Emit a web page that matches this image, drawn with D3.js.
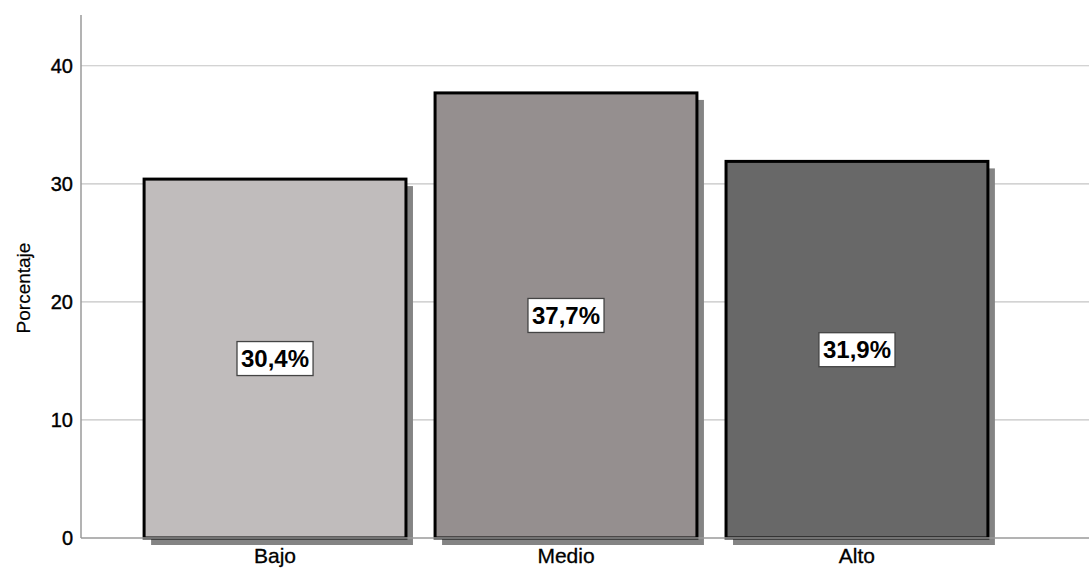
<!DOCTYPE html>
<html>
<head>
<meta charset="utf-8">
<script src="https://cdn.jsdelivr.net/npm/d3@7"></script>
<style>
  body { margin: 0; background: #fff; }
  text { font-family: "Liberation Sans", Arial, sans-serif; }
</style>
</head>
<body>
<script>
// datos
var categories = ["Bajo", "Medio", "Alto"];
var percents = [30.4, 37.7, 31.9];
var labels = ["30,4%", "37,7%", "31,9%"];
var yTicks = [0, 10, 20, 30, 40];
var fills = ["#c0bcbc", "#958f8f", "#686868"];

var width = 1089, height = 569;
var axisX = 81, axisBottom = 538, axisTop = 15;

var svg = d3.select("body").append("svg")
    .attr("width", width)
    .attr("height", height);

var y = d3.scaleLinear()
    .domain([0, 44.3])
    .range([axisBottom, axisTop]);

var x = d3.scaleBand()
    .domain(categories)
    .range([115, 1017])
    .paddingInner(0.1)
    .paddingOuter(0.1);

// grid
svg.append("g").selectAll("line")
    .data(yTicks.filter(d => d > 0))
    .enter().append("line")
    .attr("x1", axisX).attr("x2", width)
    .attr("y1", d => y(d)).attr("y2", d => y(d))
    .style("stroke", "#c4c4c4")
    .style("stroke-width", 1.2);

var data = categories.map((c, i) => ({cat: c, v: percents[i], lab: labels[i], fill: fills[i]}));

// sombras
svg.append("g").selectAll("rect")
    .data(data)
    .enter().append("rect")
    .attr("x", d => x(d.cat) + 7)
    .attr("y", d => y(d.v) + 7)
    .attr("width", x.bandwidth())
    .attr("height", d => axisBottom - y(d.v))
    .style("fill", "#848484");

// barras
svg.append("g").selectAll("rect")
    .data(data)
    .enter().append("rect")
    .attr("x", d => x(d.cat))
    .attr("y", d => y(d.v))
    .attr("width", x.bandwidth())
    .attr("height", d => axisBottom - y(d.v))
    .style("fill", d => d.fill)
    .style("stroke", "#000")
    .style("stroke-width", 3);

// ejes
svg.append("line")
    .attr("x1", axisX).attr("x2", axisX)
    .attr("y1", axisTop).attr("y2", axisBottom)
    .style("stroke", "#9a9a9a").style("stroke-width", 1.5);
svg.append("line")
    .attr("x1", axisX).attr("x2", width)
    .attr("y1", axisBottom).attr("y2", axisBottom)
    .style("stroke", "#9a9a9a").style("stroke-width", 1.5);

svg.append("g").selectAll("text")
    .data(yTicks)
    .enter().append("text")
    .attr("x", 73)
    .attr("y", d => y(d))
    .attr("dy", "0.36em")
    .attr("text-anchor", "end")
    .style("font-size", "20px")
    .style("fill", "#000")
    .style("stroke", "#000").style("stroke-width", 0.4)
    .text(d => d);

svg.append("g").selectAll("text")
    .data(categories)
    .enter().append("text")
    .attr("x", d => x(d) + x.bandwidth() / 2)
    .attr("y", 563)
    .attr("text-anchor", "middle")
    .style("font-size", "21px")
    .style("fill", "#000")
    .style("stroke", "#000").style("stroke-width", 0.3)
    .text(d => d);

svg.append("text")
    .attr("transform", "translate(30,288) rotate(-90)")
    .attr("text-anchor", "middle")
    .style("font-size", "19px")
    .style("fill", "#000")
    .style("stroke", "#000").style("stroke-width", 0.2)
    .text("Porcentaje");

// etiquetas de valor
var lab = svg.append("g").selectAll("g")
    .data(data)
    .enter().append("g")
    .attr("transform", d => "translate(" + (x(d.cat) + x.bandwidth() / 2) + "," + y(d.v / 2) + ")");

lab.append("text")
    .attr("text-anchor", "middle")
    .attr("dy", "0.36em")
    .style("font-size", "24px")
    .style("font-weight", "bold")
    .style("fill", "#000")
    .text(d => d.lab)
    .each(function() {
        var b = this.getBBox();
        d3.select(this.parentNode).insert("rect", "text")
            .attr("x", b.x - 4)
            .attr("y", -17)
            .attr("width", b.width + 8)
            .attr("height", 34)
            .style("fill", "#fff")
            .style("stroke", "#444")
            .style("stroke-width", 1.3);
    });
</script>
</body>
</html>
